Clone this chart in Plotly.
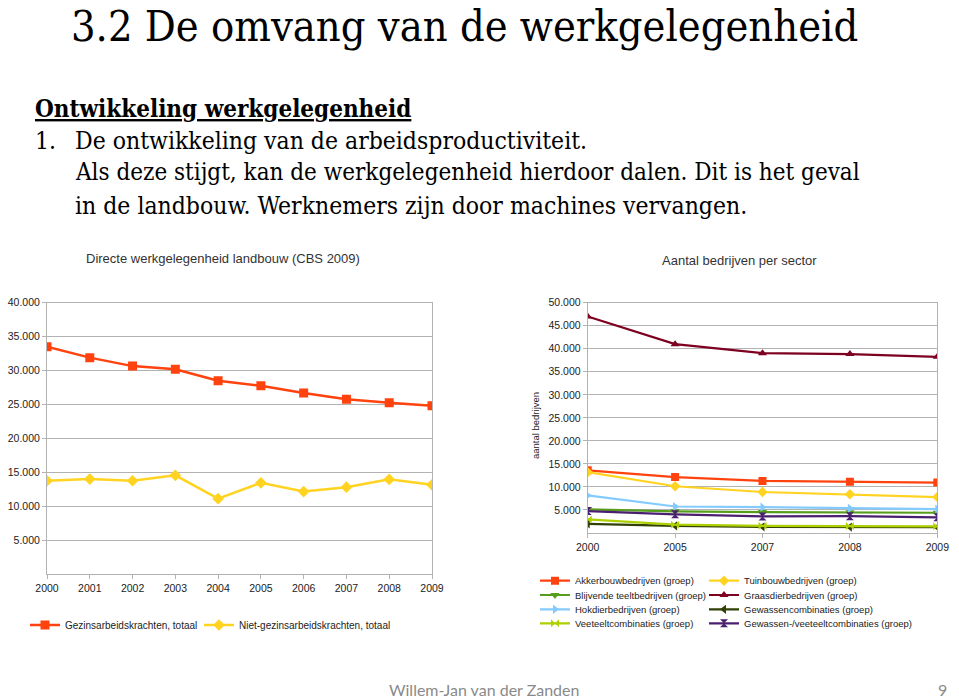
import plotly.graph_objects as go

W, H = 959, 699

# ---------------- data ----------------
years_left = [2000, 2001, 2002, 2003, 2004, 2005, 2006, 2007, 2008, 2009]
gezins = [33500, 31900, 30650, 30200, 28500, 27750, 26700, 25750, 25250, 24800]
niet_gezins = [13750, 14000, 13750, 14550, 11100, 13450, 12150, 12800, 13950, 13150]
left_y_ticks = [5000, 10000, 15000, 20000, 25000, 30000, 35000, 40000]

years_right = ["2000", "2005", "2007", "2008", "2009"]
akkerbouw = [13600, 12150, 11300, 11150, 10950]
tuinbouw = [13200, 10150, 8900, 8400, 7800]
blijvende = [5150, 4700, 4550, 4500, 4400]
graasdier = [47000, 41000, 39050, 38850, 38250]
hokdier = [8150, 5750, 5600, 5350, 5200]
gewassencomb = [2000, 1550, 1350, 1300, 1250]
veeteelt = [2950, 1800, 1550, 1500, 1450]
gewassen_veeteelt = [4750, 4050, 3600, 3650, 3400]
right_y_ticks = [5000, 10000, 15000, 20000, 25000, 30000, 35000, 40000, 45000, 50000]

right_series = [
    ("Akkerbouwbedrijven (groep)", akkerbouw, "#ff420e", "square"),
    ("Tuinbouwbedrijven (groep)", tuinbouw, "#ffd320", "diamond"),
    ("Blijvende teeltbedrijven (groep)", blijvende, "#579d1c", "triangle-down"),
    ("Graasdierbedrijven (groep)", graasdier, "#7e0021", "triangle-up"),
    ("Hokdierbedrijven (groep)", hokdier, "#83caff", "triangle-right"),
    ("Gewassencombinaties (groep)", gewassencomb, "#314004", "triangle-left"),
    ("Veeteeltcombinaties (groep)", veeteelt, "#aecf00", "bowtie"),
    ("Gewassen-/veeteeltcombinaties (groep)", gewassen_veeteelt, "#4b1f6f", "hourglass"),
]

# ---------------- helpers ----------------
def px_x(v):
    return v / W

def px_y(v):
    return 1 - v / H

GRID = "#b3b3b3"
TICKC = "#222222"
FONT = "Liberation Sans"
SERIF = "DejaVu Serif Condensed, Liberation Serif, serif"

fig = go.Figure()

fig.add_trace(go.Scatter(
    x=years_left, y=gezins, name="Gezinsarbeidskrachten, totaal",
    mode="lines+markers", line=dict(color="#ff420e", width=2.5),
    marker=dict(symbol="square", size=9, color="#ff420e"),
    xaxis="x", yaxis="y", legend="legend", showlegend=True))
fig.add_trace(go.Scatter(
    x=years_left, y=niet_gezins, name="Niet-gezinsarbeidskrachten, totaal",
    mode="lines+markers", line=dict(color="#ffd320", width=2.5),
    marker=dict(symbol="diamond", size=9, color="#ffd320"),
    xaxis="x", yaxis="y", legend="legend2", showlegend=True))

for i, (name, vals, col, sym) in enumerate(right_series):
    fig.add_trace(go.Scatter(
        x=years_right, y=vals, name=name, mode="lines+markers",
        line=dict(color=col, width=2.2),
        marker=dict(symbol=sym, size=8, color=col),
        xaxis="x2", yaxis="y2", legend=f"legend{i + 3}", showlegend=True))

axis_common = dict(showline=True, linecolor=GRID, linewidth=1, mirror=True,
                   ticks="outside", ticklen=4, tickcolor=GRID, zeroline=False,
                   fixedrange=True, automargin=False)

fig.update_layout(
    template="none",
    showlegend=True,
    width=W, height=H, autosize=False,
    margin=dict(l=0, r=0, t=0, b=0, pad=0),
    paper_bgcolor="white", plot_bgcolor="white",
    separators=",.",
    font=dict(family=FONT, color=TICKC),
    xaxis=dict(domain=[px_x(47), px_x(432)], range=[2000, 2009], tickvals=years_left,
               showgrid=False, tickfont=dict(size=10.5, color=TICKC),
               anchor="y", **axis_common),
    yaxis=dict(domain=[px_y(574), px_y(302.7)], range=[0, 40000], tickvals=left_y_ticks,
               tickformat=",.0f", showgrid=True, gridcolor=GRID, gridwidth=1,
               tickfont=dict(size=10.5, color=TICKC), anchor="x", **axis_common),
    xaxis2=dict(domain=[px_x(587.7), px_x(937.3)], type="category", range=[0, 4],
                showgrid=False, tickfont=dict(size=10.5, color=TICKC),
                anchor="y2", **axis_common),
    yaxis2=dict(domain=[px_y(533), px_y(302.7)], range=[0, 50000], tickvals=right_y_ticks,
                tickformat=",.0f", showgrid=True, gridcolor=GRID, gridwidth=1,
                tickfont=dict(size=10.5, color=TICKC), anchor="x2", **axis_common),
)

# legend boxes: (x of item start, y of box top, font size)
legend_pos = [
    (25, 610.5, 10), (199, 610.5, 10),
    (535, 566.2, 9.5), (704, 566.2, 9.5),
    (535, 580.5, 9.5), (704, 580.5, 9.5),
    (535, 594.8, 9.5), (704, 594.8, 9.5),
    (535, 608.8, 9.5), (704, 608.8, 9.5),
]
for i, (lx, ly, fs) in enumerate(legend_pos):
    key = "legend" if i == 0 else f"legend{i + 1}"
    fig.update_layout(**{key: dict(
        visible=True,
        orientation="h", x=px_x(lx), y=px_y(ly), xanchor="left", yanchor="top",
        font=dict(size=fs, color=TICKC, family=FONT),
        bgcolor="rgba(0,0,0,0)", borderwidth=0)})

annotations = [
    dict(text="3.2 De omvang van de werkgelegenheid", x=px_x(69), y=px_y(26),
         xanchor="left", yanchor="middle",
         font=dict(family=SERIF, size=43, color="black")),
    dict(text="<b><u>Ontwikkeling werkgelegenheid</u></b>", x=px_x(33), y=px_y(108),
         xanchor="left", yanchor="middle",
         font=dict(family=SERIF, size=24, color="black")),
    dict(text="1.", x=px_x(33), y=px_y(141), xanchor="left", yanchor="middle",
         font=dict(family=SERIF, size=24.5, color="black")),
    dict(text="De ontwikkeling van de arbeidsproductiviteit.", x=px_x(73), y=px_y(141),
         xanchor="left", yanchor="middle",
         font=dict(family=SERIF, size=24.5, color="black")),
    dict(text="Als deze stijgt, kan de werkgelegenheid hierdoor dalen. Dit is het geval",
         x=px_x(73), y=px_y(172), xanchor="left", yanchor="middle",
         font=dict(family=SERIF, size=24, color="black")),
    dict(text="in de landbouw. Werknemers zijn door machines vervangen.",
         x=px_x(73), y=px_y(205), xanchor="left", yanchor="middle",
         font=dict(family=SERIF, size=24.5, color="black")),
    dict(text="Directe werkgelegenheid landbouw (CBS 2009)", x=px_x(223), y=px_y(258),
         xanchor="center", yanchor="middle", font=dict(family=FONT, size=13, color="#333333")),
    dict(text="Aantal bedrijven per sector", x=px_x(739), y=px_y(260),
         xanchor="center", yanchor="middle", font=dict(family=FONT, size=13, color="#333333")),
    dict(text="aantal bedrijven", x=px_x(535), y=px_y(426), textangle=-90,
         xanchor="center", yanchor="middle", font=dict(family=FONT, size=9.5, color=TICKC)),
    dict(text="Willem-Jan van der Zanden", x=px_x(484), y=px_y(689),
         xanchor="center", yanchor="middle", font=dict(family="Lato", size=16, color="#8a8a8a")),
    dict(text="9", x=px_x(942), y=px_y(689),
         xanchor="center", yanchor="middle", font=dict(family="Lato", size=16, color="#8a8a8a")),
]
for a in annotations:
    a.update(xref="paper", yref="paper", showarrow=False)
fig.update_layout(annotations=annotations)

fig.write_html("out.html", config={"displayModeBar": False},
               post_script="document.body.style.margin='0px';")
